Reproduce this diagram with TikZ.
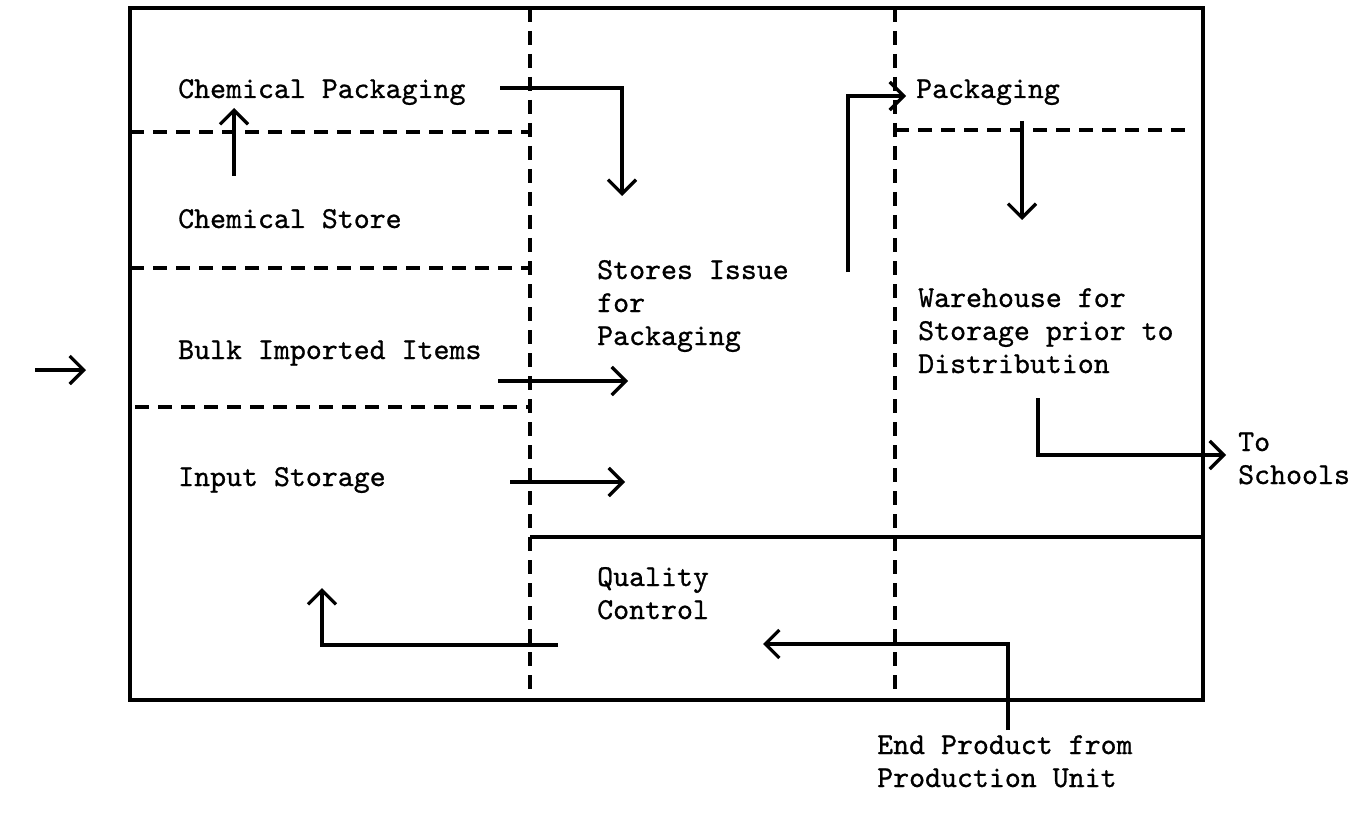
\documentclass[tikz,border=0pt]{standalone}
\usepackage{fontspec}
\newfontfamily\tw{lmmono10-regular}[Extension=.otf, FakeBold=0.8]
\usetikzlibrary{arrows.meta}
\begin{document}
\begin{tikzpicture}[x=1pt,y=-1pt,
  frame/.style={line width=3.2pt},
  divider/.style={line width=3.4pt, dash pattern=on 14pt off 9pt},
  flow/.style={line width=3.3pt, -{Straight Barb[length=14pt,width=28pt,line width=3.3pt]}},
  lbl/.style={font=\fontsize{30.4}{33}\selectfont\tw, inner sep=0pt, anchor=base west, align=left}]
\useasboundingbox (0,0) rectangle (1360,813);

% frame and dividers
\draw[frame] (130,8) rectangle (1203,700);
\draw[divider] (530,8) -- (530,700);
\draw[divider] (895,8) -- (895,700);
\draw[divider] (130,132) -- (530,132);
\draw[divider] (130,268) -- (530,268);
\draw[divider] (135,407) -- (530,407);
\draw[divider] (895,130) -- (1192,130);
\draw[frame] (530,537) -- (1203,537);

% labels (multi-line labels are placed by the baseline of their last line)
\node[lbl] (cpack) at (178,98) {Chemical Packaging};
\node[lbl] (cstore) at (178,228) {Chemical Store};
\node[lbl] (bulk) at (178,359) {Bulk Imported Items};
\node[lbl] (input) at (178,486) {Input Storage};
\node[lbl] (issue) at (597,345) {Stores Issue\\for\\Packaging};
\node[lbl] (pack) at (916,98) {Packaging};
\node[lbl] (ware) at (918,373) {Warehouse for\\Storage prior to\\Distribution};
\node[lbl] (schools) at (1238,484) {To\\Schools};
\node[lbl] (qc) at (597,619) {Quality\\Control};
\node[lbl] (endp) at (877,787) {End Product from\\Production Unit};

% connector points
\coordinate (in0) at (35,370);  \coordinate (in1) at (86,370);
\coordinate (cs0) at (234,176); \coordinate (cs1) at (234,108);
\coordinate (cp0) at (500,88);  \coordinate (cp1) at (622,88);  \coordinate (cp2) at (622,196);
\coordinate (bk0) at (498,381); \coordinate (bk1) at (628,381);
\coordinate (is0) at (510,482); \coordinate (is1) at (625,482);
\coordinate (si0) at (848,272); \coordinate (si1) at (848,96);  \coordinate (si2) at (906,96);
\coordinate (pk0) at (1022,121);\coordinate (pk1) at (1022,220);
\coordinate (wh0) at (1038,398);\coordinate (wh1) at (1038,455);\coordinate (wh2) at (1226,455);
\coordinate (qc0) at (558,645); \coordinate (qc1) at (322,645); \coordinate (qc2) at (322,588);
\coordinate (ep0) at (1008,730);\coordinate (ep1) at (1008,644);\coordinate (ep2) at (763,644);

% flows
\draw[flow] (in0) -- (in1);
\draw[flow] (cs0) -- (cs1);
\draw[flow] (cp0) -- (cp1) -- (cp2);
\draw[flow] (bk0) -- (bk1);
\draw[flow] (is0) -- (is1);
\draw[flow] (si0) -- (si1) -- (si2);
\draw[flow] (pk0) -- (pk1);
\draw[flow] (wh0) -- (wh1) -- (wh2);
\draw[flow] (qc0) -- (qc1) -- (qc2);
\draw[flow] (ep0) -- (ep1) -- (ep2);
\end{tikzpicture}
\end{document}
